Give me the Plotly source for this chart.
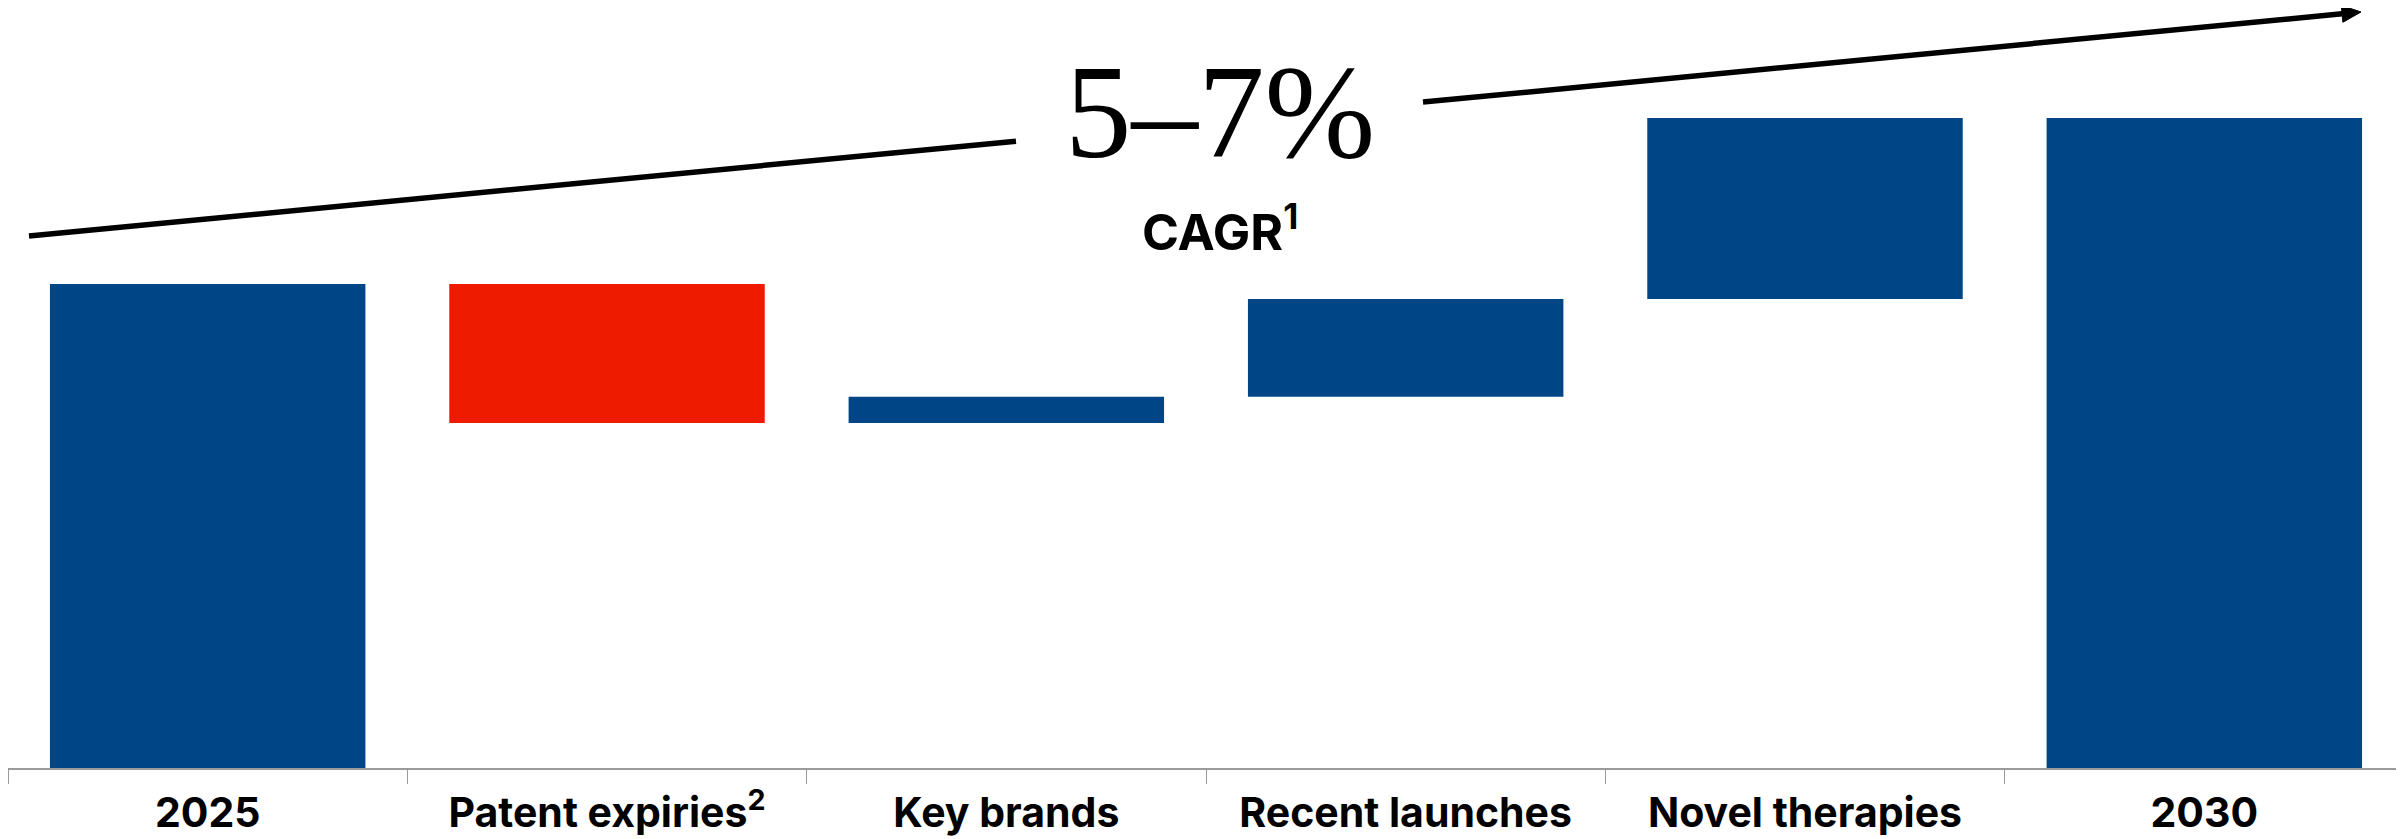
import math
import plotly.graph_objects as go

categories = ["2025", "Patent expiries<sup>2</sup>", "Key brands", "Recent launches", "Novel therapies", "2030"]
measures = ["absolute", "relative", "relative", "relative", "relative", "total"]
values = [100, -28.7, 5.4, 20.2, 37.4, 134.3]
title_text = "5–7%"
subtitle_text = "<b>CAGR<sup>1</sup></b>"

BLUE = "#004687"
RED = "#EE1B00"

OFF = 8  # page body margin
W, H = 2404 - OFF, 839 - OFF
ML, MR, MT = 0, 0, 0
BASE = 768  # page y of the baseline
MB = H - (BASE - OFF)
PW, PH = W - ML - MR, H - MT - MB


def px(x):
    return (x - OFF - ML) / PW


def py(y):
    return (MT + PH - (y - OFF)) / PH


fig = go.Figure(go.Waterfall(
    x=categories,
    y=values,
    measure=measures,
    increasing=dict(marker=dict(color=BLUE)),
    decreasing=dict(marker=dict(color=RED)),
    totals=dict(marker=dict(color=BLUE)),
    connector=dict(visible=False),
    width=0.79,
    textposition="none",
    hoverinfo="skip",
))

# arrow line (broken around the title), page pixel coordinates
x0, y0 = 29, 236
tip = (2361, 12)
dx, dy = tip[0] - x0, tip[1] - y0
L = math.hypot(dx, dy)
ux, uy = dx / L, dy / L
nx, ny = -uy, ux
head_len, head_half = 19, 8.5
bx, by = tip[0] - head_len * ux, tip[1] - head_len * uy


def yline(x):
    return y0 + (x - x0) * dy / dx


shapes = []
for xa, xb in [(x0, 1016), (1423, bx)]:
    shapes.append(dict(type="line", xref="paper", yref="paper",
                       x0=px(xa), y0=py(yline(xa)), x1=px(xb), y1=py(yline(xb)),
                       line=dict(color="black", width=5.5), layer="above"))
p1 = (bx + head_half * nx, by + head_half * ny)
p2 = (bx - head_half * nx, by - head_half * ny)
path = "M {} {} L {} {} L {} {} Z".format(px(tip[0]), py(tip[1]), px(p1[0]), py(p1[1]), px(p2[0]), py(p2[1]))
shapes.append(dict(type="path", xref="paper", yref="paper", path=path,
                   fillcolor="black", line=dict(color="black", width=1), layer="above"))

fig.update_layout(
    width=W, height=H,
    margin=dict(l=ML, r=MR, t=MT, b=MB),
    plot_bgcolor="white", paper_bgcolor="white",
    showlegend=False,
    shapes=shapes,
    annotations=[
        dict(text=title_text, xref="paper", yref="paper", x=px(1220), y=py(112),
             showarrow=False, xanchor="center", yanchor="middle",
             font=dict(family="Liberation Serif", size=133, color="black")),
        dict(text=subtitle_text, xref="paper", yref="paper", x=px(1220), y=py(229),
             showarrow=False, xanchor="center", yanchor="middle",
             font=dict(family="Inter", size=50, color="black")),
    ],
    xaxis=dict(
        range=[-0.5, 5.5],
        showline=True, linecolor="#9a9a9a", linewidth=2,
        ticks="outside", tickson="boundaries", ticklen=14, tickwidth=1, tickcolor="#9a9a9a",
        ticklabelstandoff=8,
        tickfont=dict(family="Inter", size=41, color="black", weight="bold"),
        showgrid=False, zeroline=False, fixedrange=True,
    ),
    yaxis=dict(range=[0, 100 * PH / 484], visible=False, showgrid=False, zeroline=False),
)

fig.write_html("out.html")
